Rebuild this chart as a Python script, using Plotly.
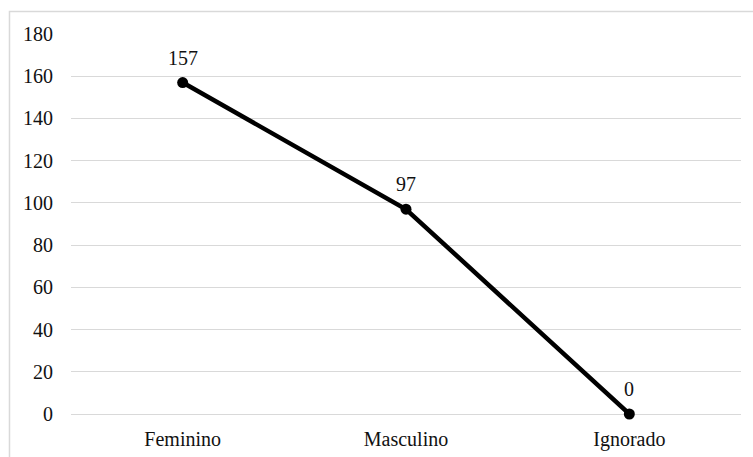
import plotly.graph_objects as go

categorias = ["Feminino", "Masculino", "Ignorado"]
casos = [157, 97, 0]
y_ticks = list(range(0, 181, 20))

fonte = dict(family="Liberation Serif, Times New Roman, serif", size=20, color="#111111")

fig = go.Figure(
    go.Scatter(
        x=categorias,
        y=casos,
        mode="lines+markers",
        line=dict(color="#000000", width=4.5),
        marker=dict(color="#000000", size=11),
        cliponaxis=False,
        hoverinfo="skip",
    )
)

# rótulos de valor acima de cada ponto
for cat, valor in zip(categorias, casos):
    fig.add_annotation(
        x=cat, y=valor, text=str(valor), showarrow=False,
        yshift=25, font=fonte,
    )

# moldura cinza em volta do gráfico
fig.add_shape(
    type="rect", xref="paper", yref="paper",
    x0=-0.0918, x1=1.1, y0=-0.2, y1=1.0592,
    line=dict(color="#d9d9d9", width=1.5),
    fillcolor="rgba(0,0,0,0)", layer="below",
)

fig.update_layout(
    width=753, height=457,
    margin=dict(l=71, r=12, t=34, b=43),
    paper_bgcolor="white", plot_bgcolor="white",
    showlegend=False,
    font=fonte,
)
fig.update_xaxes(
    showgrid=False, showline=False, zeroline=False, ticks="",
    tickfont=fonte, range=[-0.5, 2.5], fixedrange=True,
    ticklabelstandoff=11, automargin=False,
)
fig.update_yaxes(
    range=[0, 180], tickvals=y_ticks, showgrid=True, gridcolor="#d9d9d9",
    gridwidth=1.2, zeroline=True, zerolinecolor="#d9d9d9", zerolinewidth=1.2,
    showline=False, ticks="", tickfont=fonte, ticklabelstandoff=17,
    fixedrange=True, automargin=False,
)

fig.write_html("out.html")
